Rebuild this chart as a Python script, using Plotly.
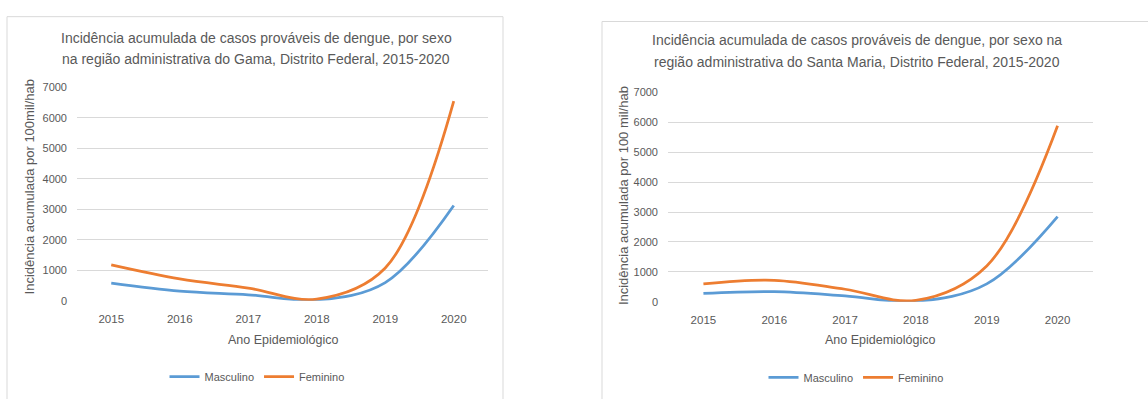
import plotly.graph_objects as go

years = [2015, 2016, 2017, 2018, 2019, 2020]
gama_masc = [580, 320, 200, 30, 600, 3130]
gama_fem = [1180, 720, 420, 60, 1080, 6550]
sm_masc = [280, 340, 200, 20, 600, 2850]
sm_fem = [600, 720, 420, 50, 1200, 5880]

title_left = ["Incidência acumulada de casos prováveis de dengue, por sexo",
              "na região administrativa do Gama, Distrito Federal, 2015-2020"]
title_right = ["Incidência acumulada de casos prováveis de dengue, por sexo na",
               "região administrativa do Santa Maria, Distrito Federal, 2015-2020"]
ytitle_left = "Incidência acumulada por 100mil/hab"
ytitle_right = "Incidência acumulada por 100 mil/hab"
xtitle = "Ano Epidemiológico"

W, H = 1148, 399
BLUE = "#5B9BD5"
ORANGE = "#ED7D31"
GREY = "#595959"
GRID = "#d9d9d9"
FONT = "Liberation Sans"

def px(x):
    return x / W

def py(y):
    return 1 - y / H

fig = go.Figure()
line_kw = dict(shape="spline", smoothing=1.0, width=2.75)
fig.add_trace(go.Scatter(x=years, y=gama_masc, name="Masculino", mode="lines",
                         line=dict(color=BLUE, **line_kw), xaxis="x", yaxis="y", legend="legend"))
fig.add_trace(go.Scatter(x=years, y=gama_fem, name="Feminino", mode="lines",
                         line=dict(color=ORANGE, **line_kw), xaxis="x", yaxis="y", legend="legend"))
fig.add_trace(go.Scatter(x=years, y=sm_masc, name="Masculino", mode="lines",
                         line=dict(color=BLUE, **line_kw), xaxis="x2", yaxis="y2", legend="legend2"))
fig.add_trace(go.Scatter(x=years, y=sm_fem, name="Feminino", mode="lines",
                         line=dict(color=ORANGE, **line_kw), xaxis="x2", yaxis="y2", legend="legend2"))

xax = dict(range=[2014.5, 2020.5], tickvals=years, showgrid=False, zeroline=False,
           showline=False, ticks="", ticklabelstandoff=10,
           tickfont=dict(size=11.5, color=GREY, family=FONT))
yax = dict(range=[0, 7000], dtick=1000, showgrid=True, gridcolor=GRID, gridwidth=1,
           zeroline=False, showline=False, ticks="", ticklabelstandoff=9,
           tickfont=dict(size=11, color=GREY, family=FONT))

fig.update_layout(
    width=W, height=H,
    margin=dict(l=0, r=0, t=0, b=0),
    paper_bgcolor="white", plot_bgcolor="white",
    font=dict(family=FONT, color=GREY),
    xaxis=dict(domain=[px(77), px(488)], anchor="y", **xax),
    yaxis=dict(domain=[py(304), py(84)], anchor="x", **yax),
    xaxis2=dict(domain=[px(668), px(1093)], anchor="y2", **xax),
    yaxis2=dict(domain=[py(305), py(89)], anchor="x2", **yax),
    legend=dict(orientation="h", x=px(257), xanchor="center", y=py(382), yanchor="middle",
                font=dict(size=11, color=GREY, family=FONT), bgcolor="rgba(0,0,0,0)",
                itemwidth=30, tracegroupgap=0),
    legend2=dict(orientation="h", x=px(856), xanchor="center", y=py(383), yanchor="middle",
                 font=dict(size=11, color=GREY, family=FONT), bgcolor="rgba(0,0,0,0)",
                 itemwidth=30, tracegroupgap=0),
    showlegend=True,
)

# chart area borders
fig.add_shape(type="rect", xref="paper", yref="paper", x0=px(7), x1=px(503), y0=py(410), y1=py(11),
              line=dict(color=GRID, width=1), layer="below")
fig.add_shape(type="rect", xref="paper", yref="paper", x0=px(602), x1=px(1160), y0=py(410), y1=py(16),
              line=dict(color=GRID, width=1), layer="below")

ann = []
def text(t, x, y, size, angle=0):
    ann.append(dict(text=t, x=px(x), y=py(y), xref="paper", yref="paper", showarrow=False,
                    textangle=angle, xanchor="center", yanchor="middle",
                    font=dict(size=size, color=GREY, family=FONT)))

text(title_left[0], 256, 33, 14)
text(title_left[1], 256, 55, 14)
text(title_right[0], 857, 35, 14)
text(title_right[1], 857, 58, 14)
text(xtitle, 283, 344, 12.5)
text(xtitle, 880, 344, 12.5)
text(ytitle_left, 29, 187, 13, -90)
text(ytitle_right, 623, 196, 13, -90)
fig.update_layout(annotations=ann)

fig.write_html("out.html")
